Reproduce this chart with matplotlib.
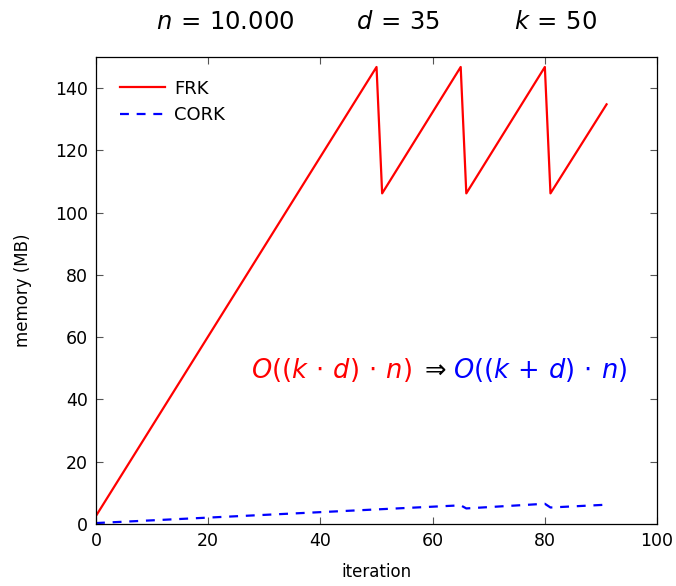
import matplotlib as mpl
import matplotlib.pyplot as plt

mpl.use('Agg')
mpl.rcParams.update({
    'font.family': 'DejaVu Sans',
    'mathtext.fontset': 'dejavusans',
})

# memory usage per iteration (vertices of the piecewise linear curves)
frk_iter = [0, 50, 51, 65, 66, 80, 81, 91]
frk_mem = [2.6, 146.8, 106.2, 146.8, 106.2, 146.8, 106.2, 134.8]
cork_iter = [0, 65, 66, 80, 81, 91]
cork_mem = [0.3, 6.0, 5.0, 6.5, 5.3, 6.2]

xticks = [0, 20, 40, 60, 80, 100]
yticks = [0, 20, 40, 60, 80, 100, 120, 140]

fig = plt.figure(figsize=(6.76, 5.86), dpi=100)
ax = fig.add_axes([0.142, 0.1058, 0.830, 0.7969])

ax.plot(frk_iter, frk_mem, color='red', lw=1.6, label='FRK')
ax.plot(cork_iter, cork_mem, color='blue', lw=1.6, ls=(0, (4, 3.5)), label='CORK')

ax.set_xlim(0, 100)
ax.set_ylim(0, 150)
ax.set_xticks(xticks)
ax.set_yticks(yticks)
ax.tick_params(direction='in', top=True, right=True, length=5, width=0.8,
               color='#555555', labelsize=12.5, pad=6)
for s in ax.spines.values():
    s.set_linewidth(0.9)

ax.set_xlabel('iteration', fontsize=12, labelpad=9)
ax.set_ylabel('memory (MB)', fontsize=12, labelpad=16)

ax.legend(loc='upper left', frameon=False, fontsize=13, handlelength=2.5,
          handletextpad=0.5, labelspacing=0.45, borderaxespad=0.6,
          bbox_to_anchor=(0.01, 0.99))

# complexity annotation, chained left to right
t1 = ax.text(27.6, 49.5, r'$O((k\,\cdot\,d)\,\cdot\,n)$', color='red',
             fontsize=18.5, va='center', ha='left')
t2 = ax.annotate(r'$\Rightarrow$', xy=(1, 0.5), xycoords=t1, xytext=(5, 0),
                 textcoords='offset points', va='center', ha='left',
                 fontsize=18.5, color='black')
ax.annotate(r'$O((k\,+\,d)\,\cdot\,n)$', xy=(1, 0.5), xycoords=t2,
            xytext=(5, 0), textcoords='offset points', va='center', ha='left',
            fontsize=18.5, color='blue')

# parameter header
for xpos, s in [(0.333, r'$n\,=\,10.000$'), (0.589, r'$d\,=\,35$'),
                (0.821, r'$k\,=\,50$')]:
    fig.text(xpos, 0.962, s, fontsize=17.5, ha='center', va='center')

fig.savefig('out.png', dpi=100)
